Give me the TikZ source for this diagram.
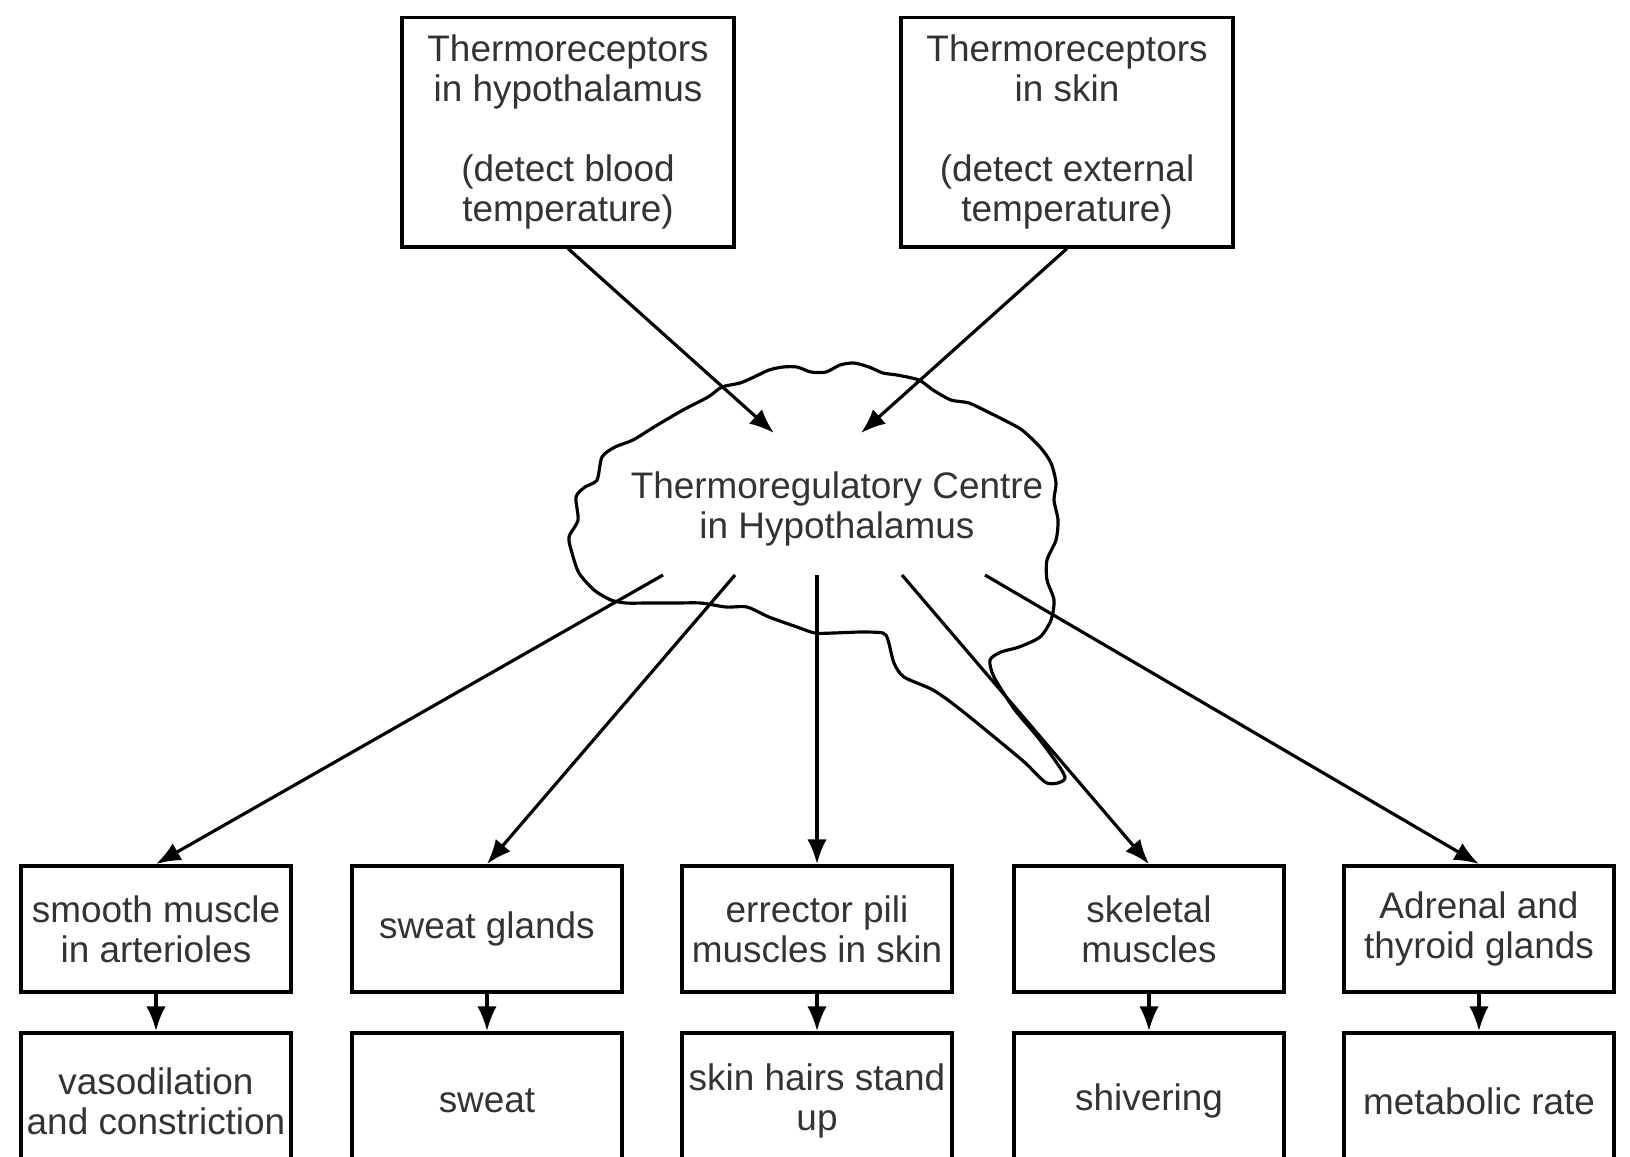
\documentclass[tikz,border=0pt]{standalone}
\usepackage{fontspec}
\setmainfont{Liberation Sans}
\usetikzlibrary{arrows.meta}

\begin{document}
\begin{tikzpicture}[
		x=0.01cm, y=-0.01cm,
		>={Latex[length=7pt,width=5.5pt]},
		link/.style={->,line width=0.9pt},
		label/.style={align=center,text=black!80,font=\fontsize{10.5}{11.4}\selectfont},
		box/.style={label,draw,line width=1.1pt,inner sep=1pt},
		sensor/.style={box,minimum width=3.32cm,minimum height=2.29cm},
		effector/.style={box,minimum width=2.70cm,minimum height=1.26cm},
		response/.style={box,minimum width=2.70cm,minimum height=1.36cm},
		cloudline/.style={line width=0.9pt,line join=round}
	]
		\useasboundingbox (0,0) rectangle (1630,1156);

		%receptors
		\node[sensor] (hyp) at (568,132) {Thermoreceptors\\in hypothalamus\\[11.4pt](detect blood\\temperature)};
		\node[sensor] (skin) at (1067,132) {Thermoreceptors\\in skin\\[11.4pt](detect external\\temperature)};

		%centre
		\draw[cloudline] plot[smooth cycle,tension=0.45] coordinates {
			(572,553) (569,537) (578,520) (576,497) (585,487) (597,480) (602,457)
			(615,447) (633,440) (654,427) (683,410) (708,397) (722,387) (740,383)
			(754,377) (769,370) (783,367) (797,367) (811,372) (826,372) (840,365)
			(854,363) (869,367) (883,373) (897,375) (919,380) (933,390) (951,400)
			(969,403) (990,413) (1004,420) (1022,430) (1040,447) (1051,463) (1056,483)
			(1054,500) (1058,520) (1056,540) (1047,560) (1047,580) (1054,600) (1051,620)
			(1040,637) (1019,647) (1001,652) (990,660) (994,677) (1015,710) (1040,740)
			(1065,777) (1047,783) (1022,760) (961,710) (933,690) (904,677) (894,663)
			(888,640) (883,633) (861,632) (833,633) (815,633) (797,627) (769,617)
			(747,607) (726,607) (701,603) (676,603) (647,603) (626,603) (611,600)
			(594,590) (579,573)};
		\node[label] (centre) at (837,509) {Thermoregulatory Centre\\in Hypothalamus};

		\coordinate (in1) at (774,433);
		\coordinate (in2) at (861,433);
		\draw[link] (hyp.south) -- (in1);
		\draw[link] (skin.south) -- (in2);

		%effectors and responses
		\foreach \i/\x/\a/\b in {
			1/156/{smooth muscle\\in arterioles}/{vasodilation\\and constriction},
			2/487/{sweat glands}/{sweat},
			3/817/{errector pili\\muscles in skin}/{skin hairs stand\\up},
			4/1149/{skeletal\\muscles}/{shivering},
			5/1479/{Adrenal and\\thyroid glands}/{metabolic rate}} {
			\node[effector] (e\i) at (\x,929) {\a};
			\node[response] (r\i) at (\x,1101) {\b};
			\draw[link] (e\i) -- (r\i);
		}

		\foreach \i/\ox in {1/663,2/735,3/817,4/902,5/985} {
			\coordinate (out\i) at (\ox,575);
			\draw[link] (out\i) -- (e\i.north);
		}
	\end{tikzpicture}
\end{document}
